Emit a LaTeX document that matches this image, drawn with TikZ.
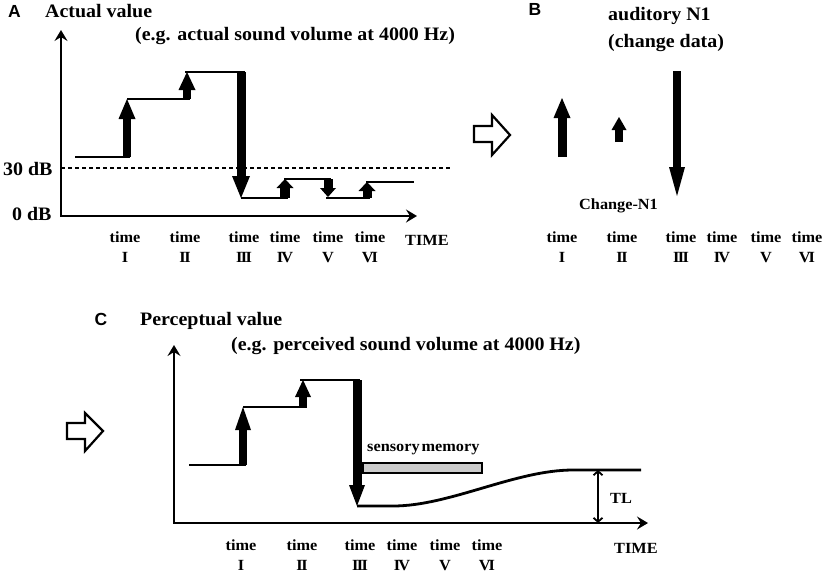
\documentclass[tikz,border=0pt]{standalone}
\usepackage{fontspec}
\setmainfont{Liberation Serif}[FakeStretch=1.05]
\newfontfamily\panelfont{Liberation Sans}
\usetikzlibrary{arrows.meta}

\begin{document}
\begin{tikzpicture}[x=1pt,y=-1pt,
    title/.style={font=\fontsize{19}{21}\selectfont\bfseries, inner sep=0pt},
    lbl/.style={font=\fontsize{15.5}{18}\selectfont\bfseries, inner sep=0pt},
    panel/.style={font=\panelfont\fontsize{17.5}{19}\selectfont\bfseries, inner sep=0pt},
    axis/.style={line width=2.6pt, {Stealth[length=11pt,width=13pt,inset=4pt]}-{Stealth[length=11pt,width=13pt,inset=4pt]}},
    level/.style={line width=2.8pt},
    fat/.style n args={3}{line width=#1, -{Triangle[length=#2,width=#3,line width=0pt]}},
    hollow/.style={line width=2.2pt, line join=miter}]

                \useasboundingbox (0,0) rectangle (826,579);

                % A: actual value
                \node[panel, anchor=base] (pA) at (14.5,17) {A};
                \node[title, anchor=base west] (tA) at (45,17) {Actual value};
                \node[title, anchor=base west] (eA) at (135,40) {(e.g. actual sound volume at 4000 Hz)};
                \node[title, anchor=base west] (db30) at (3,175) {30 dB};
                \node[title, anchor=base west] (db0) at (12,220) {0 dB};
                \node[lbl, anchor=base west] (timeA) at (405,245) {TIME};

                \draw[axis] (61,30) -- (61,216) -- (417,216);
                \draw[line width=1.3pt, dash pattern=on 4pt off 3pt] (61,168) -- (452,168);

                \foreach \a/ \b/ \y in {75/130/157, 127/190/99, 185/245/72, 241/288/198, 284/331/179, 326/370/198, 366/414/182}{
                    \draw[level] (\a,\y) -- (\b,\y);
                }

                \foreach \x/ \a/ \b/ \w/ \l/ \h in {127/157/99/8pt/20pt/17pt, 187/99/72/8pt/18pt/17pt, 241/72/198/9pt/22pt/18pt, 285/198/179/10pt/9pt/17pt, 328/179/197/9pt/9pt/16pt, 367/198/182/9pt/9pt/17pt}{
                    \draw[fat={\w}{\l}{\h}] (\x,\a) -- (\x,\b);
                }

                \foreach \x/ \rn [count=\i] in {125/I, 185/I\kern-1.5ptI, 244/I\kern-1.5ptI\kern-1.5ptI, 285/I\kern-2ptV, 328/V, 370/V\kern-2ptI}{
                    \node[lbl, anchor=base] (tmA\i) at (\x,242) {time};
                    \node[lbl, anchor=base] (rnA\i) at (\x,262) {\rn};
                }

                % B: change data
                \draw[hollow] (474,126) -- (492,126) -- (492,115) -- (510,135) -- (492,155) -- (492,142) -- (474,142) -- cycle;
                \node[panel, anchor=base] (pB) at (535,15) {B};
                \node[title, anchor=base west] (tB) at (608,20) {auditory N1};
                \node[title, anchor=base west] (eB) at (608,47) {(change data)};
                \node[lbl, anchor=base west] (cN1) at (579,209) {Change-N1};

                \foreach \x/ \a/ \b/ \w/ \l/ \h in {562/157/98/9pt/20pt/17pt, 619/142/117/8pt/13pt/15pt, 677/71/196/8pt/29pt/16pt}{
                    \draw[fat={\w}{\l}{\h}] (\x,\a) -- (\x,\b);
                }

                \foreach \x/ \rn [count=\i] in {562/I, 622/I\kern-1.5ptI, 681/I\kern-1.5ptI\kern-1.5ptI, 722/I\kern-2ptV, 766/V, 807/V\kern-2ptI}{
                    \node[lbl, anchor=base] (tmB\i) at (\x,242) {time};
                    \node[lbl, anchor=base] (rnB\i) at (\x,262) {\rn};
                }

                % C: perceptual value
                \draw[hollow] (67,423) -- (85,423) -- (85,413) -- (103,431) -- (85,451) -- (85,439) -- (67,439) -- cycle;
                \node[panel, anchor=base] (pC) at (101,325) {C};
                \node[title, anchor=base west] (tC) at (140,325) {Perceptual value};
                \node[title, anchor=base west] (eC) at (231,350) {(e.g. perceived sound volume at 4000 Hz)};
                \node[lbl, anchor=base west] (timeC) at (614,553) {TIME};

                \draw[axis] (174,345) -- (174,523) -- (648,523);

                \foreach \a/ \b/ \y in {189/246/465, 243/307/407, 300/360/380}{
                    \draw[level] (\a,\y) -- (\b,\y);
                }
                \draw[level] (357,506) -- (393,506) .. controls (450,506) and (515,470) .. (573,470) -- (641,470);

                \foreach \x/ \a/ \b/ \w/ \l/ \h in {243/465/407/8pt/23pt/16pt, 303/407/380/8pt/17pt/16pt, 357/380/506/9pt/21pt/16pt}{
                    \draw[fat={\w}{\l}{\h}] (\x,\a) -- (\x,\b);
                }

                \node[draw, line width=1.2pt, fill=gray!40, minimum width=119pt, minimum height=10pt, inner sep=0pt] (mem) at (422.5,468) {};
                \node[lbl, anchor=base west] (memlbl) at (367,451) {sensory\hspace{2pt}memory};

                \coordinate (tltop) at (598,470);
                \coordinate (tlbot) at (598,523);
                \draw[line width=1.8pt, {Straight Barb[length=4pt,width=9pt]}-{Straight Barb[length=4pt,width=9pt]}] (tltop) -- (tlbot);
                \node[lbl, anchor=base west] (tl) at (610,503) {TL};

                \foreach \x/ \rn [count=\i] in {241/I, 302/I\kern-1.5ptI, 360/I\kern-1.5ptI\kern-1.5ptI, 402/I\kern-2ptV, 445/V, 487/V\kern-2ptI}{
                    \node[lbl, anchor=base] (tmC\i) at (\x,550) {time};
                    \node[lbl, anchor=base] (rnC\i) at (\x,570) {\rn};
                }

        \end{tikzpicture}
\end{document}
